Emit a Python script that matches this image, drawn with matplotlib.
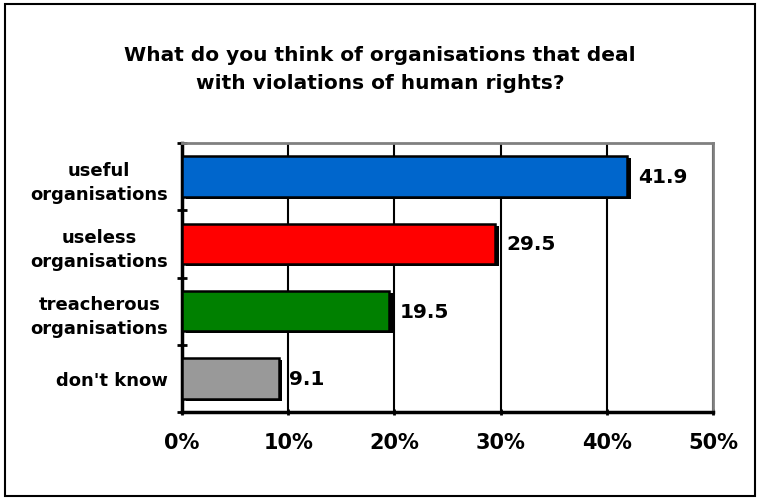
import matplotlib
matplotlib.use("Agg")
import matplotlib.pyplot as plt
import matplotlib.patches as mpatches
from matplotlib.ticker import FuncFormatter, MultipleLocator

plt.rcParams.update({"font.family": "DejaVu Sans", "font.weight": "bold"})

categories = ["useful\norganisations", "useless\norganisations",
              "treacherous\norganisations", "don't know"]
values = [41.9, 29.5, 19.5, 9.1]
bar_colors = ["#0066CC", "#FF0000", "#008000", "#999999"]

fig = plt.figure(figsize=(7.6, 5.02), dpi=100)
ax = fig.add_axes([0.2395, 0.1773, 0.6987, 0.5358])

# outer frame around the whole chart
fig.patches.append(mpatches.Rectangle((5 / 760, 5 / 502), 750 / 760, 492 / 502,
                                      transform=fig.transFigure, fill=False,
                                      edgecolor="black", linewidth=1.5))

fig.text(0.5, 0.862, "What do you think of organisations that deal\nwith violations of human rights?",
         ha="center", va="center", fontsize=14.5, fontweight="bold", linespacing=1.6)

y = list(range(len(categories)))[::-1]
# drop shadow behind each bar
ax.barh([v - 0.03 for v in y], values, height=0.6, left=0.35, color="black", zorder=2)
ax.barh(y, values, height=0.6, color=bar_colors, edgecolor="black", linewidth=1.8, zorder=3)

for yy, v in zip(y, values):
    ax.text(v + 1.0, yy, f"{v:.1f}", va="center", ha="left",
            fontsize=14.5, fontweight="bold")

ax.set_xlim(0, 50)
ax.set_ylim(-0.5, 3.5)
ax.xaxis.set_major_locator(MultipleLocator(10))
ax.xaxis.set_major_formatter(FuncFormatter(lambda x, _: f"{x:.0f}%"))
ax.tick_params(axis="x", labelsize=15, length=5, width=2, pad=12, direction="inout")
ax.grid(axis="x", color="black", linewidth=1.5, zorder=0)
ax.set_axisbelow(True)

ax.set_yticks(y)
ax.set_yticklabels(categories, fontsize=13, fontweight="bold")
for lbl in ax.get_yticklabels():
    lbl.set_multialignment("center")
    lbl.set_linespacing(1.45)
ax.tick_params(axis="y", length=0, pad=10)
# category boundary ticks
ax.set_yticks([-0.5, 0.5, 1.5, 2.5, 3.5], minor=True)
ax.tick_params(axis="y", which="minor", length=7, width=2, direction="inout")

ax.spines["left"].set_linewidth(2.5)
ax.spines["bottom"].set_linewidth(2.5)
ax.spines["top"].set_color("#808080")
ax.spines["right"].set_color("#808080")
ax.spines["top"].set_linewidth(2)
ax.spines["right"].set_linewidth(2)

fig.savefig("out.png", dpi=100)
